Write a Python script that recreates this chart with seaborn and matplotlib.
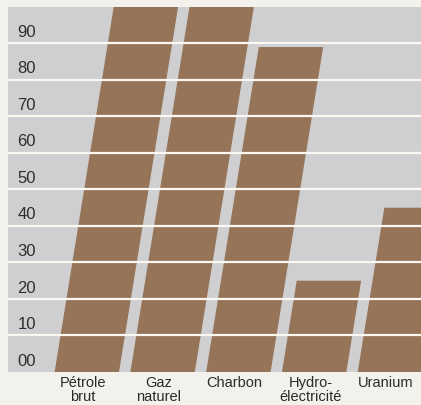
import numpy as np
import matplotlib
matplotlib.use('Agg')
import matplotlib.pyplot as plt
import seaborn as sns
from matplotlib.transforms import Affine2D, blended_transform_factory

# Data
sources = ['Pétrole\nbrut', 'Gaz\nnaturel', 'Charbon', 'Hydro-\nélectricité', 'Uranium']
values = [100, 100, 89, 25, 45]
grid_levels = [0, 10, 20, 30, 40, 50, 60, 70, 80, 90]
grid_labels = ['00', '10', '20', '30', '40', '50', '60', '70', '80', '90']

brown = '#967458'
panel = '#cfcfd2'
paper = '#f3f1ec'

sns.set_style('white')
plt.rcParams['font.family'] = ['Liberation Sans', 'DejaVu Sans']

fig = plt.figure(figsize=(4.21, 4.05), dpi=100, facecolor=paper)
ax = fig.add_axes([0.019, 0.0815, 0.981, 0.9015])
ax.set_facecolor(panel)

sns.barplot(x=sources, y=values, color=brown, saturation=1, width=0.85, ax=ax)

# slant the bars like the hand-drawn original
skew = Affine2D().skew(np.arctan(0.0078), 0).translate(0.05, 0)
for bar in ax.patches:
    bar.set_transform(skew + ax.transData)
    bar.set_edgecolor('none')
    bar.set_zorder(2)

# white rules across the bars
for lvl in grid_levels[1:]:
    ax.axhline(lvl, color='#fbf8f2', lw=1.6, zorder=3)

# value labels sit in the band above each rule
trans = blended_transform_factory(ax.transAxes, ax.transData)
for lvl, lab in zip(grid_levels, grid_labels):
    ax.text(0.023, lvl + 3, lab, transform=trans, ha='left', va='center',
            fontsize=12, color='#2e2e2e', zorder=4)

ax.set_ylim(0, 100)
ax.set_xlim(-0.99, 4.46)
ax.set_yticks([])
ax.set_xlabel('')
ax.set_ylabel('')
ax.tick_params(axis='x', length=0, pad=3, labelsize=10.5, labelcolor='#2a2a2a')
for t in ax.get_xticklabels():
    t.set_linespacing(0.95)
for s in ax.spines.values():
    s.set_visible(False)

fig.savefig('out.png', dpi=100, facecolor=paper)
